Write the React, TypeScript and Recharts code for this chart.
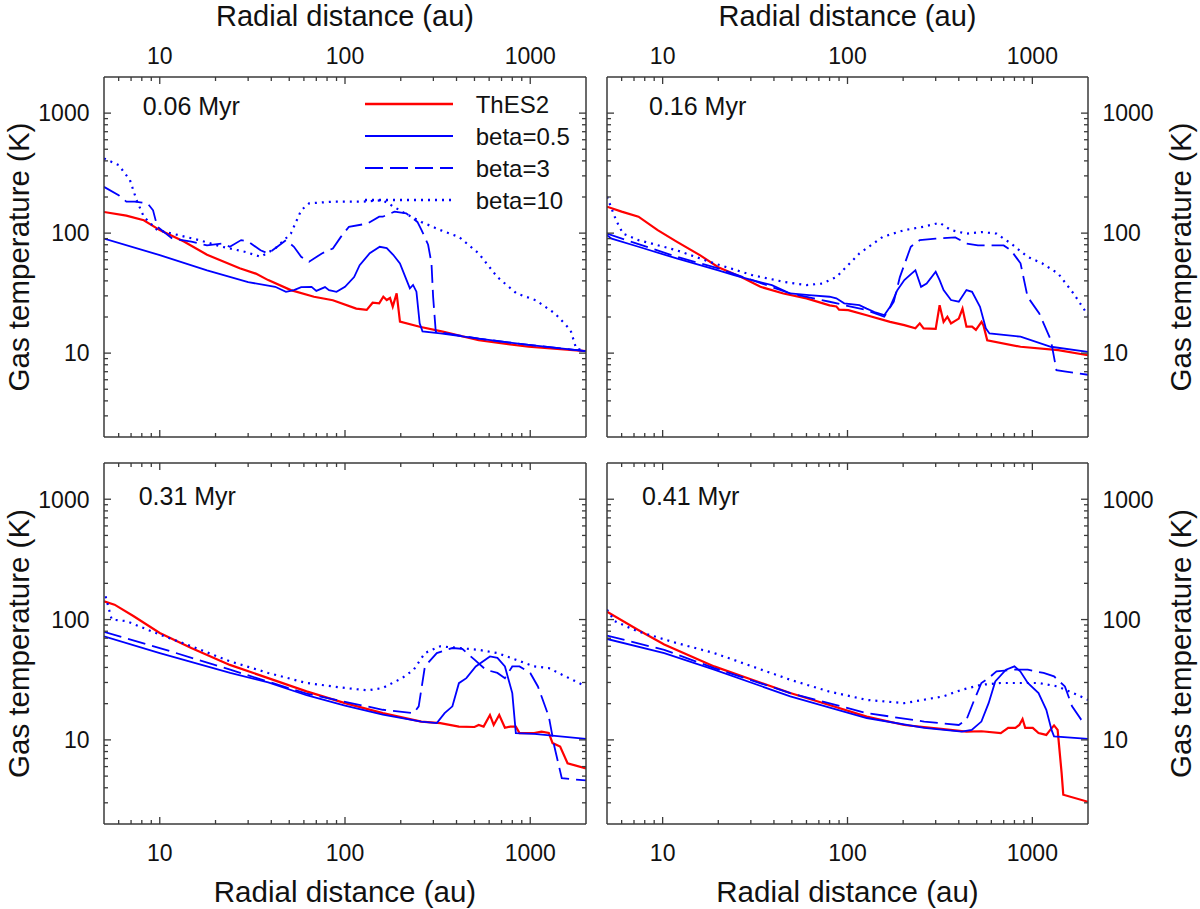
import { LineChart, Line, XAxis, YAxis, Legend } from 'recharts'

type Pt = [number, number]

// radial distance (au), gas temperature (K)
const TL_THES2: Pt[] = [[5, 150], [6.6, 140], [8.2, 128], [10, 106], [13.5, 85], [18, 66], [27, 51], [33, 46], [38.5, 40.6], [51, 33.5], [68, 29.5], [86, 27.6], [115, 23.5], [131, 22.9], [141, 26.3], [153, 26], [161, 29.5], [168, 27.7], [175, 28.8], [181, 24.4], [190, 31.5], [198, 18.3], [253, 16.6], [337, 15.1], [527, 12.8], [980, 11.3], [2000, 10.4]]
const TL_B05: Pt[] = [[5, 90], [10, 65.6], [18, 49], [30, 39], [42, 35.7], [48, 32.4], [53, 33.5], [58, 35.5], [66, 35.7], [70, 33], [78, 35.5], [82, 33.5], [90, 32.4], [100, 35.7], [112, 43], [120, 54], [136, 68], [154, 77], [168, 75], [182, 66], [198, 56], [215, 40.6], [224, 34.7], [233, 37], [243, 32.5], [253, 17.7], [262, 15.2], [327, 14.6], [527, 13.2], [980, 11.7], [2000, 10.4]]
const TL_B3: Pt[] = [[5, 243], [6, 207], [6.6, 183], [7.3, 183], [8.6, 177], [9.2, 155], [9.7, 113], [11.7, 90], [14.8, 85], [18, 79], [21.7, 82], [23.9, 77], [27.5, 87.5], [30, 85], [35, 72], [38.5, 67.7], [44, 79], [48, 87.5], [53, 77], [58, 63.5], [64, 57.7], [75, 67.7], [86, 74.5], [95, 93], [105, 113], [132, 120], [153, 137], [160, 137], [185, 151], [214, 146], [246, 124], [259, 106], [281, 80], [293, 56], [299, 29.5], [309, 15.1], [527, 13.2], [980, 11.7], [2000, 10.4]]
const TL_B10: Pt[] = [[5, 419], [6, 369], [6.9, 277], [7.5, 188], [8.2, 137], [9.7, 106], [11.7, 99], [16.3, 87.5], [21.7, 77], [28.7, 70], [35, 63.5], [42, 74.5], [51, 99], [58, 155], [64, 177], [86, 183], [126, 183], [160, 188], [203, 151], [258, 124], [327, 106], [412, 93], [527, 67.7], [665, 43], [845, 31.4], [1070, 27.6], [1360, 21.4], [1650, 15.6], [1770, 10.9], [2000, 10.4]]

const TR_THES2: Pt[] = [[5, 166], [6, 151], [7.4, 137], [9.4, 106], [11.9, 85], [15.9, 65.6], [20, 52], [26.6, 43], [33.8, 35.7], [45, 31.4], [60, 28.6], [80, 25], [87, 24.5], [90, 23], [101, 22.8], [127, 20.7], [170, 18.2], [203, 17.1], [233, 16.1], [246, 17.7], [258, 16.1], [300, 15.9], [315, 25.1], [331, 18.2], [347, 20.1], [363, 17.7], [400, 19.4], [419, 23.5], [440, 16.6], [472, 16.6], [495, 15.6], [531, 18.2], [544, 17], [570, 12.8], [863, 11.3], [1380, 10.6], [2000, 9.6]]
const TR_B05: Pt[] = [[5, 96], [5.3, 90], [7.4, 77], [11.9, 61.5], [20, 49], [24.3, 44.7], [30.5, 40.6], [39, 36.9], [49, 31.4], [62, 30.4], [80, 29.5], [87, 28.6], [96, 26], [116, 25.1], [127, 23.5], [140, 22], [158, 20.7], [170, 24.3], [186, 33.5], [203, 40.6], [222, 46], [233, 49], [250, 35.7], [268, 38], [300, 47.6], [315, 40.6], [331, 33.5], [363, 27.7], [400, 26.8], [440, 33.5], [472, 32.4], [521, 24.3], [560, 16.1], [586, 14.6], [863, 13.7], [1260, 11.3], [2000, 10.25]]
const TR_B3: Pt[] = [[5, 99], [11.9, 63.5], [20, 50.8], [30.5, 40.6], [49, 31.4], [80, 26.8], [127, 22.8], [158, 20.1], [178, 26.8], [192, 43], [220, 77], [246, 87.5], [300, 90], [383, 92], [440, 82], [508, 79], [612, 79], [700, 79], [766, 72], [863, 56], [942, 29.5], [1090, 21.4], [1260, 12.8], [1350, 7.2], [1520, 7.0], [2000, 6.6]]
const TR_B10: Pt[] = [[5, 201], [5.6, 128], [6.1, 99], [7.4, 87.5], [11.9, 72], [19, 56], [30.5, 44.7], [45, 39.3], [60, 36.9], [73, 38], [87, 43], [116, 67.7], [155, 93], [203, 106], [258, 113], [315, 122], [363, 106], [440, 99], [531, 102], [640, 99], [766, 82], [942, 63.5], [1130, 56], [1380, 46], [1670, 31.4], [2000, 20.7]]

const BL_THES2: Pt[] = [[5, 142], [5.7, 133], [7.2, 107], [10, 77.4], [14.8, 58], [23.9, 42], [38.5, 32.6], [62, 25.3], [100, 20.2], [160, 16.7], [258, 14.2], [327, 13.8], [412, 12.9], [500, 12.8], [527, 13.3], [560, 12.9], [606, 16.1], [635, 13.3], [680, 16.1], [730, 12.6], [780, 12.9], [836, 12.9], [875, 11.4], [1050, 11.4], [1150, 11.7], [1260, 11.4], [1320, 9.4], [1450, 8.8], [1590, 6.4], [2000, 5.8]]
const BL_B05: Pt[] = [[5, 72.6], [10, 52.7], [24, 36], [38.5, 30], [62, 23.5], [100, 19.3], [160, 16.2], [258, 14.2], [313, 13.8], [345, 16.7], [380, 19], [412, 29.6], [452, 32.6], [508, 40.8], [606, 49.4], [665, 48], [730, 40.8], [800, 24.5], [836, 11.4], [1050, 11.2], [2000, 10.2]]
const BL_B3: Pt[] = [[5, 79], [10, 58], [24, 38.3], [62, 24.2], [160, 17.8], [235, 16.7], [250, 19], [270, 40.8], [313, 52.7], [380, 58], [430, 57], [500, 46.4], [575, 38.3], [665, 36], [730, 32.6], [800, 40.8], [875, 40.8], [1000, 36], [1100, 27.8], [1260, 15.6], [1350, 8.8], [1480, 4.8], [2000, 4.6]]
const BL_B10: Pt[] = [[5.1, 156], [5.5, 100], [6.6, 97], [10, 75], [14.8, 60], [23.9, 45], [38.5, 36], [62, 29.7], [100, 27], [132, 25.8], [160, 27], [203, 32.6], [235, 38.3], [270, 52.7], [327, 60], [412, 58], [527, 56], [665, 52.7], [836, 46.4], [1050, 40.8], [1260, 39.5], [1550, 33.7], [2000, 27.8]]

const BR_THES2: Pt[] = [[5, 116], [7.3, 82.6], [10.2, 62], [19, 40.8], [30.5, 31.6], [49, 24.5], [79, 19.6], [127, 15.6], [203, 13.3], [330, 12.3], [440, 11.7], [531, 11.8], [675, 11.4], [740, 12.6], [810, 12.6], [850, 13.3], [885, 14.9], [915, 12.6], [1005, 12.6], [1080, 11.4], [1190, 11], [1250, 12.1], [1310, 13.2], [1370, 12.1], [1440, 5.3], [1470, 3.5], [2000, 3.06]]
const BR_B05: Pt[] = [[5, 69], [10.2, 52.7], [19, 38.3], [49, 23], [127, 15.2], [260, 12.6], [415, 11.7], [470, 12.1], [530, 14.2], [580, 20.2], [630, 30.6], [720, 38.3], [800, 40.8], [860, 37.1], [945, 29.7], [1080, 24.5], [1190, 17.8], [1270, 12.1], [1310, 10.7], [2000, 10.2]]
const BR_B3: Pt[] = [[5, 73.5], [10.2, 56], [19, 39.5], [49, 24.5], [127, 16.7], [260, 14.2], [400, 13.3], [440, 14.7], [485, 21.5], [530, 29.7], [580, 32.6], [640, 37.1], [800, 38.3], [945, 38.3], [1150, 36], [1310, 33.7], [1500, 27.8], [1640, 19], [1840, 14.7], [1960, 13.7]]
const BR_B10: Pt[] = [[5, 121], [5.5, 97], [7.3, 80], [11.8, 64], [19, 52.7], [30.5, 40.8], [49, 31.6], [79, 25.3], [127, 21.5], [203, 20.2], [330, 23], [415, 26.1], [530, 28.7], [675, 29.7], [860, 29.7], [1080, 29.7], [1370, 27.8], [1750, 23.7], [2000, 21.5]]

const X_TICKS = [6, 7, 8, 9, 10, 20, 30, 40, 50, 60, 70, 80, 90, 100, 200, 300, 400, 500, 600, 700, 800, 900, 1000]
const Y_TICKS = [3, 4, 5, 6, 7, 8, 9, 10, 20, 30, 40, 50, 60, 70, 80, 90, 100, 200, 300, 400, 500, 600, 700, 800, 900, 1000]
const MAJOR = [10, 100, 1000]

const SERIES = [
  { name: 'ThES2', color: '#ff0000', dash: undefined as string | undefined, width: 2.2 },
  { name: 'beta=0.5', color: '#0000ff', dash: undefined as string | undefined, width: 1.8 },
  { name: 'beta=3', color: '#0000ff', dash: '18 7', width: 1.8 },
  { name: 'beta=10', color: '#0000ff', dash: '2 5', width: 2.2 },
]

const FONT = '"Liberation Sans", Arial, sans-serif'
const AXIS_COLOR = '#3a3a3a'
const M = 90 // space around each plot box
const AX = 30 // axis band size, taken out of M

type Side = 'top' | 'bottom' | 'left' | 'right'

function AxisTick({ x, y, payload, side, show }: any) {
  const v = payload.value
  const major = MAJOR.includes(v)
  const len = major ? 7 : 4
  const dx = side === 'left' ? len : side === 'right' ? -len : 0
  const dy = side === 'top' ? len : side === 'bottom' ? -len : 0
  let label = null
  if (show && major) {
    const common = { fontFamily: FONT, fontSize: 23, fill: '#111' }
    if (side === 'top') label = <text x={x} y={y - 13.5} textAnchor="middle" {...common}>{v}</text>
    if (side === 'bottom') label = <text x={x} y={y + 37} textAnchor="middle" {...common}>{v}</text>
    if (side === 'left') label = <text x={x - 14.5} y={y + 8.3} textAnchor="end" {...common}>{v}</text>
    if (side === 'right') label = <text x={x + 14.5} y={y + 8.3} textAnchor="start" {...common}>{v}</text>
  }
  return (
    <g>
      <line x1={x} y1={y} x2={x + dx} y2={y + dy} stroke={AXIS_COLOR} strokeWidth={1.3} />
      {label}
    </g>
  )
}

const tickFor = (side: Side, show: boolean) => (p: any) => <AxisTick {...p} side={side} show={show} />

function LegendBox() {
  return (
    <svg width={240} height={130}>
      {SERIES.map((s, i) => {
        const cy = 18 + 32 * i
        return (
          <g key={s.name}>
            <line x1={5} x2={93} y1={cy} y2={cy} stroke={s.color} strokeWidth={s.width + 0.4} strokeDasharray={s.dash} />
            <text x={115.7} y={cy + 8.5} fontFamily={FONT} fontSize={24} fill="#111">{s.name}</text>
          </g>
        )
      })}
    </svg>
  )
}

interface PanelProps {
  x: number
  y: number
  w: number
  h: number
  xLabels: 'top' | 'bottom'
  yLabels: 'left' | 'right'
  series: Pt[][]
  legend?: boolean
}

function Panel({ x, y, w, h, xLabels, yLabels, series, legend }: PanelProps) {
  const axisLine = { stroke: AXIS_COLOR, strokeWidth: 1.5 }
  const common = { tickSize: 0, tickMargin: 0, tickLine: false, axisLine, interval: 0 as const, allowDataOverflow: true }
  const inner = M - AX
  return (
    <div style={{ position: 'absolute', left: x - M, top: y - M }}>
      <LineChart width={w + 2 * M} height={h + 2 * M} margin={{ top: inner, right: inner, bottom: inner, left: inner }}>
        <XAxis xAxisId="b" orientation="bottom" type="number" dataKey="r" scale="log" domain={[5, 2000]}
          ticks={X_TICKS} height={AX} tick={tickFor('bottom', xLabels === 'bottom')} {...common} />
        <XAxis xAxisId="t" orientation="top" type="number" dataKey="r" scale="log" domain={[5, 2000]}
          ticks={X_TICKS} height={AX} tick={tickFor('top', xLabels === 'top')} {...common} />
        <YAxis yAxisId="l" orientation="left" type="number" scale="log" domain={[2, 2000]}
          ticks={Y_TICKS} width={AX} tick={tickFor('left', yLabels === 'left')} {...common} />
        <YAxis yAxisId="r" orientation="right" type="number" scale="log" domain={[2, 2000]}
          ticks={Y_TICKS} width={AX} tick={tickFor('right', yLabels === 'right')} {...common} />
        {SERIES.map((s, i) => (
          <Line
            key={s.name}
            xAxisId="b"
            yAxisId="l"
            name={s.name}
            data={series[i].map(([r, T]) => ({ r, T }))}
            dataKey="T"
            type="linear"
            stroke={s.color}
            strokeWidth={s.width}
            strokeDasharray={s.dash}
            dot={false}
            activeDot={false}
            isAnimationActive={false}
          />
        ))}
        {legend && (
          <Legend
            layout="vertical"
            align="center"
            verticalAlign="middle"
            content={() => <LegendBox />}
            wrapperStyle={{ left: 256 + M, top: 9 + M, width: 240, height: 130 }}
          />
        )}
      </LineChart>
    </div>
  )
}

const TITLE_X = 'Radial distance (au)'
const TITLE_Y = 'Gas temperature (K)'

export default function App() {
  return (
    <div style={{ position: 'absolute', left: 0, top: 0, width: 1200, height: 909, overflow: 'hidden', background: '#fff' }}>
      <Panel x={104} y={77} w={482} h={360} xLabels="top" yLabels="left" series={[TL_THES2, TL_B05, TL_B3, TL_B10]} legend />
      <Panel x={607} y={77} w={481} h={360} xLabels="top" yLabels="right" series={[TR_THES2, TR_B05, TR_B3, TR_B10]} />
      <Panel x={104} y={463} w={482} h={361} xLabels="bottom" yLabels="left" series={[BL_THES2, BL_B05, BL_B3, BL_B10]} />
      <Panel x={607} y={463} w={481} h={361} xLabels="bottom" yLabels="right" series={[BR_THES2, BR_B05, BR_B3, BR_B10]} />
      <svg width={1200} height={909} style={{ position: 'absolute', left: 0, top: 0, pointerEvents: 'none' }}>
        <g fontFamily={FONT} fill="#111">
          <text x={345} y={26} fontSize={29} textAnchor="middle">{TITLE_X}</text>
          <text x={847.5} y={26} fontSize={29} textAnchor="middle">{TITLE_X}</text>
          <text x={345} y={902} fontSize={29.5} textAnchor="middle">{TITLE_X}</text>
          <text x={847.5} y={902} fontSize={29.5} textAnchor="middle">{TITLE_X}</text>
          <text transform="translate(29.1,257) rotate(-90)" fontSize={29.5} textAnchor="middle">{TITLE_Y}</text>
          <text transform="translate(29.1,643.5) rotate(-90)" fontSize={29.5} textAnchor="middle">{TITLE_Y}</text>
          <text transform="translate(1191,257) rotate(-90)" fontSize={29.5} textAnchor="middle">{TITLE_Y}</text>
          <text transform="translate(1191,643.5) rotate(-90)" fontSize={29.5} textAnchor="middle">{TITLE_Y}</text>
          <text x={142.7} y={115} fontSize={25}>0.06 Myr</text>
          <text x={649} y={115} fontSize={25}>0.16 Myr</text>
          <text x={138.7} y={505} fontSize={25}>0.31 Myr</text>
          <text x={642} y={505} fontSize={25}>0.41 Myr</text>
        </g>
      </svg>
    </div>
  )
}
